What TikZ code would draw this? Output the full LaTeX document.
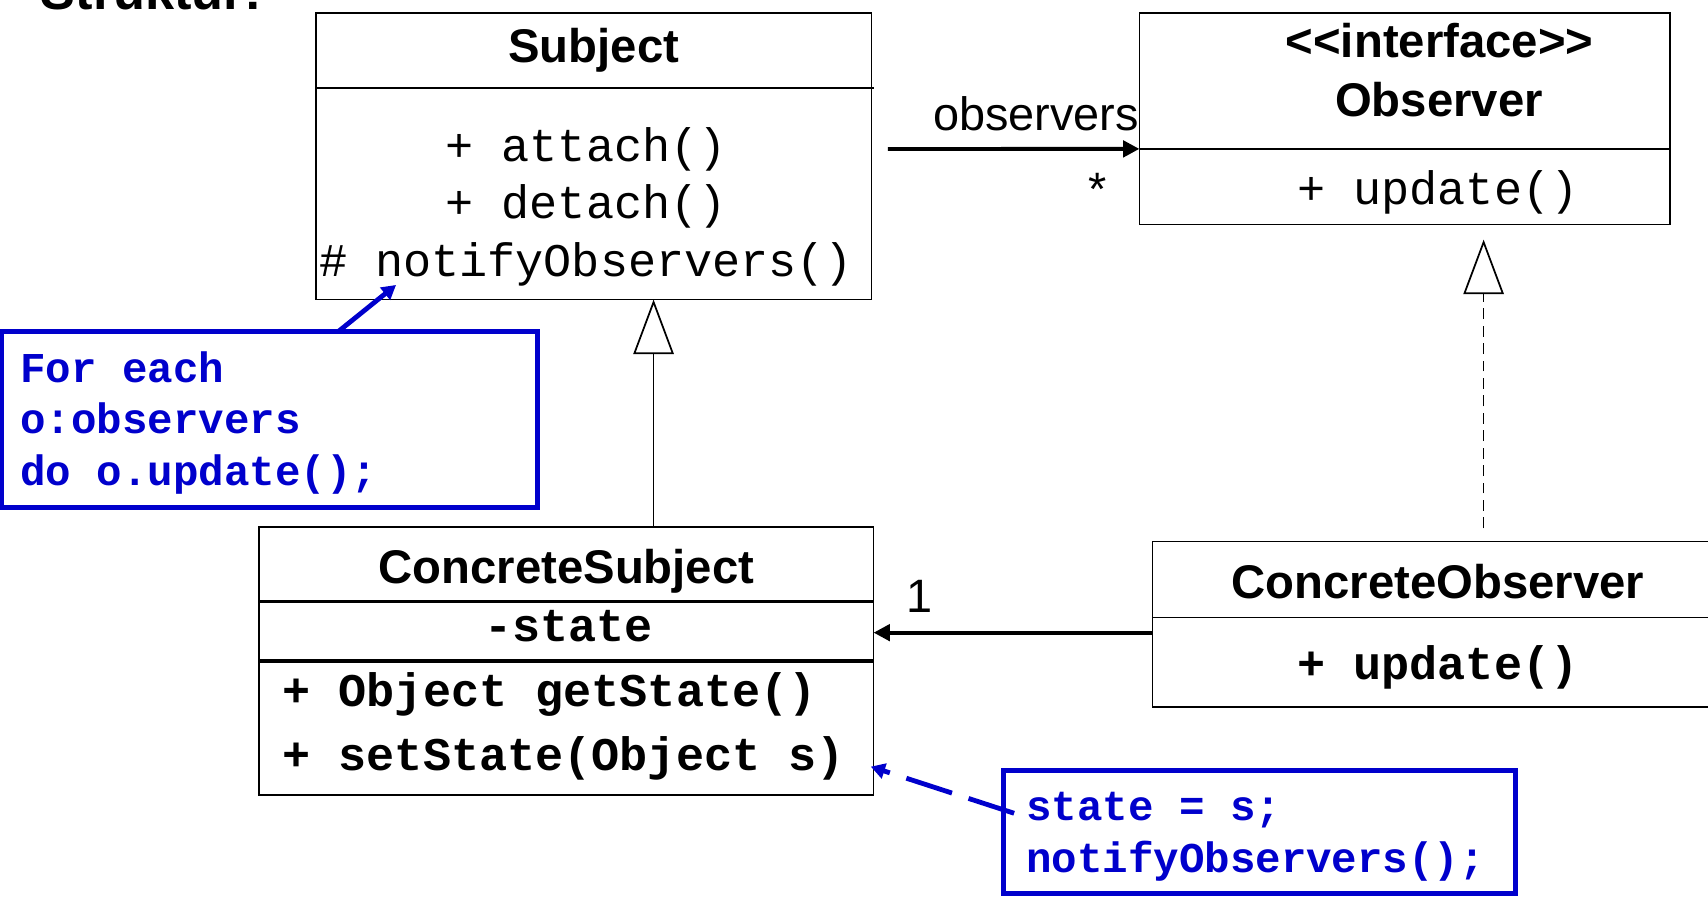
\documentclass[tikz,border=0pt]{standalone}
\usepackage{fontspec}
\setmainfont{Liberation Sans}
\setmonofont{Liberation Mono}
\usetikzlibrary{calc,arrows.meta}
\definecolor{noteblue}{HTML}{0000CC}
\newcommand\clsfont{\fontsize{21.7pt}{26pt}\selectfont\bfseries}
\newcommand\opfont{\ttfamily\fontsize{21.5pt}{26pt}\selectfont}
\newcommand\notefont{\ttfamily\bfseries\fontsize{19.5pt}{23.7pt}\selectfont}
\newcommand\labfont{\fontsize{21.5pt}{26pt}\selectfont}
\newcommand\notestart{\noindent\spaceskip=0pt\xspaceskip=0pt\rule{0pt}{20.5pt}}

\begin{document}
\begin{tikzpicture}[x=1pt,y=1pt,
  classbox/.style={draw,line width=0.8pt,inner sep=0pt,outer sep=0pt},
  txt/.style={inner sep=0pt,anchor=base},
  divider/.style={line width=0.8pt},
  notebox/.style={draw=noteblue,line width=2.2pt,text=noteblue,inner ysep=0pt,outer sep=0pt,align=left,font=\notefont},
  assoc/.style={-{Triangle[length=7.5pt,width=7.5pt]},line width=1.8pt},
  inherit/.style={-{Triangle[open,length=25pt,width=18.5pt]},line width=0.8pt},
  realize/.style={inherit,dash pattern=on 5pt off 3pt},
  noteline/.style={-{Triangle[length=6.5pt,width=7pt]},draw=noteblue,line width=2.2pt}]
\useasboundingbox (0,0) rectangle (784,-411.5);
\fill[white] (0,0) rectangle (784,-411.5);
\clip (0,0) rectangle (784,-411.5);

\node[txt,anchor=base west,font=\fontsize{24pt}{28pt}\selectfont\bfseries] (heading) at (18.5,-4.5) {Struktur:};

% Subject
\node[classbox,minimum width=255pt,minimum height=131.5pt] (subject) at (272.5,-71.75) {};
\node[txt,font=\clsfont] (subjectname) at ($(subject.north)+(0,-22.5)$) {Subject};
\draw[divider] ($(subject.north west)+(0,-34.5)$) -- ++(256,0);
\node[txt,font=\opfont] (attach) at ($(subject.north)+(-3.5,-68)$) {+ attach()};
\node[txt,font=\opfont] (detach) at ($(subject.north)+(-3.5,-94.25)$) {+ detach()};
\node[txt,font=\opfont] (notify) at ($(subject.north)+(-3.5,-120.75)$) {\# notifyObservers()};

% Observer
\node[classbox,minimum width=243.5pt,minimum height=97pt] (observer) at (644.75,-54.5) {};
\node[txt,font=\clsfont] (stereo) at ($(observer.north)+(16,-20.5)$) {<\kern0pt<interface>\kern0pt>};
\node[txt,font=\clsfont] (observername) at ($(observer.north)+(15.75,-47.25)$) {Observer};
\draw[divider] ($(observer.north west)+(0,-62.5)$) -- ($(observer.north east)+(0,-62.5)$);
\node[txt,font=\opfont] (update) at ($(observer.north)+(15.25,-88)$) {+ update()};

% ConcreteSubject
\node[classbox,minimum width=282pt,minimum height=123pt] (csubject) at (260,-303.5) {};
\node[txt,font=\clsfont] (csubjectname) at ($(csubject.north)+(0,-25.75)$) {ConcreteSubject};
\draw[line width=1.6pt] ($(csubject.north west)+(0,-34)$) -- ($(csubject.north east)+(0,-34)$);
\draw[line width=1.6pt] ($(csubject.north west)+(0,-61.5)$) -- ($(csubject.north east)+(0,-61.5)$);
\node[txt,font=\opfont\bfseries] (state) at ($(csubject.north)+(1,-52.5)$) {-state};
\node[txt,anchor=base west,font=\opfont\bfseries] (getstate) at ($(csubject.north west)+(10.5,-82.4)$) {+ Object getState()};
\node[txt,anchor=base west,font=\opfont\bfseries] (setstate) at ($(csubject.north west)+(10.5,-111.5)$) {+ setState(Object s)};

% ConcreteObserver
\node[classbox,minimum width=262pt,minimum height=76pt] (cobserver) at (660,-286.5) {};
\node[txt,font=\clsfont] (cobservername) at ($(cobserver.north)+(0,-26.1)$) {ConcreteObserver};
\draw[divider] ($(cobserver.north west)+(0,-35)$) -- ($(cobserver.north east)+(0,-35)$);
\node[txt,font=\opfont\bfseries] (cupdate) at ($(cobserver.north)+(0,-63.5)$) {+ update()};

% notes
\node[notebox,minimum width=246pt,minimum height=81pt,text width=229pt,inner xsep=8.5pt]
  (loopnote) at (123.75,-192.5) {\notestart For each\\o:observers\\do o.update();\strut};
\node[notebox,minimum width=235pt,minimum height=56.5pt,text width=214.5pt,inner xsep=10.25pt]
  (setnote) at (578.25,-381.75) {\notestart state = s;\\notifyObservers();\strut};

% connectors
\draw[assoc] ($(subject.east)+(7.5,3.35)$) -- ($(observer.west)+(0,-13.85)$);
\node[txt,anchor=base east,font=\labfont] (manylabel) at ($(observer.west)+(0,-5.2)$) {observers};
\node[inner sep=0pt,anchor=north,font=\labfont] (manymult) at ($(observer.west)+(-19.25,-25)$) {*};
\draw[inherit] ($(csubject.north)+(40,0)$) -- ($(subject.south)+(27.5,0)$);
\draw[realize,shorten <=6pt] ($(cobserver.north)+(21,0)$) -- ($(observer.south)+(36.25,-7)$);
\draw[assoc] ($(cobserver.west)+(0,-3.9)$) -- ($(csubject.east)+(0,13.1)$);
\node[txt,font=\labfont] (onemult) at ($(csubject.east)+(21,22.25)$) {1};
\draw[noteline] ($(loopnote.north)+(31.75,0)$) -- ($(subject.south)+(-90.7,6.7)$);
\draw[noteline,dash pattern=on 22pt off 8pt] ($(setnote.west)+(4.75,8.45)$) -- ($(csubject.east)+(-1.3,-48.4)$);
\end{tikzpicture}
\end{document}
